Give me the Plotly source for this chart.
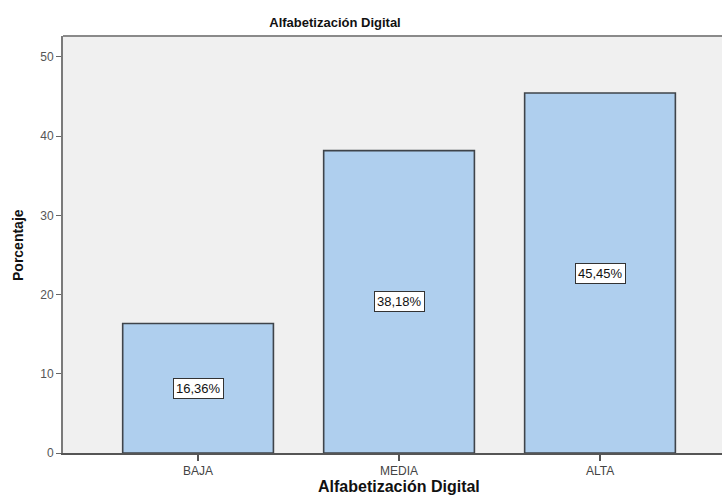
import plotly.graph_objects as go

# Nivel de alfabetización digital (porcentaje de participantes)
categorias = ["BAJA", "MEDIA", "ALTA"]
porcentajes = [16.36, 38.18, 45.45]
etiquetas = ["16,36%", "38,18%", "45,45%"]
y_ticks = [0, 10, 20, 30, 40, 50]

FONT = "Liberation Sans, Arial, sans-serif"
W, H = 722, 497
ML, MR, MT, MB = 63, 0, 36, 44
plot_w = W - ML - MR
plot_h = H - MT - MB

fig = go.Figure()
fig.add_trace(go.Bar(
    x=list(range(len(categorias))),
    y=porcentajes,
    width=0.75,
    marker=dict(color="#AFCFEE", line=dict(color="#3F444A", width=1.6)),
    hoverinfo="skip",
))

# Etiquetas de valor en el centro de cada barra
for i, (v, t) in enumerate(zip(porcentajes, etiquetas)):
    fig.add_annotation(
        x=i, y=v / 2, text=t, showarrow=False,
        font=dict(family=FONT, size=13, color="#111"),
        bgcolor="white", bordercolor="#333", borderwidth=1, borderpad=2,
    )

# Títulos de ejes
fig.add_annotation(
    xref="paper", yref="paper",
    x=(399 - ML) / plot_w, y=-(486 - (H - MB)) / plot_h,
    text="<b>Alfabetización Digital</b>", showarrow=False,
    xanchor="center", yanchor="middle",
    font=dict(family=FONT, size=16, color="#111"),
)
fig.add_annotation(
    xref="paper", yref="paper",
    x=(18 - ML) / plot_w, y=(H - MB - 245) / plot_h,
    text="<b>Porcentaje</b>", showarrow=False, textangle=-90,
    xanchor="center", yanchor="middle",
    font=dict(family=FONT, size=14, color="#111"),
)

# Borde superior del área de trazado
fig.add_shape(type="line", xref="paper", yref="paper",
              x0=0, x1=1, y0=1, y1=1,
              line=dict(color="#8A8A8A", width=2))

fig.update_layout(
    width=W, height=H,
    margin=dict(l=ML, r=MR, t=MT, b=MB, pad=0),
    paper_bgcolor="white",
    plot_bgcolor="#F0F0F0",
    showlegend=False,
    title=dict(
        text="<b>Alfabetización Digital</b>",
        x=335 / W, xref="container", xanchor="center",
        y=1 - 22 / H, yref="container", yanchor="middle",
        font=dict(family=FONT, size=13, color="#111"),
    ),
    xaxis=dict(
        tickmode="array", tickvals=list(range(len(categorias))),
        ticktext=categorias,
        range=[-0.672, 2.607],
        showgrid=False, zeroline=False,
        showline=True, linecolor="#555", linewidth=1.5,
        ticks="outside", ticklen=6, tickcolor="#555", tickwidth=1.5,
        tickfont=dict(family=FONT, size=12, color="#444"),
    ),
    yaxis=dict(
        range=[0, 52.65],
        tickmode="array", tickvals=y_ticks,
        showgrid=False, zeroline=False,
        showline=True, linecolor="#7A7A7A", linewidth=2,
        ticks="outside", ticklen=5, tickcolor="#666", tickwidth=1.2,
        tickfont=dict(family=FONT, size=12, color="#555"),
    ),
)

fig.write_html("out.html")
